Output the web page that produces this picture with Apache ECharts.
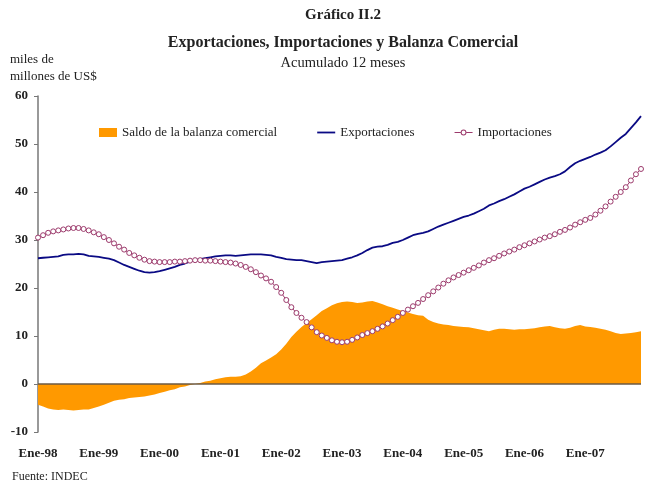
<!DOCTYPE html>
<html>
<head>
<meta charset="utf-8">
<script src="https://cdn.jsdelivr.net/npm/echarts@6/dist/echarts.min.js"></script>
<style>
  html, body { margin: 0; padding: 0; background: #fff; }
  #chart { width: 651px; height: 484px; }
</style>
</head>
<body>
<div id="chart"></div>
<script>
// monthly, Ene-98 .. Dic-07, 12-month rolling sums (miles de millones de US$)
const yearLabels = ['98', '99', '00', '01', '02', '03', '04', '05', '06', '07']
const monthNames = ['Ene', 'Feb', 'Mar', 'Abr', 'May', 'Jun', 'Jul', 'Ago', 'Sep', 'Oct', 'Nov', 'Dic']

const exportaciones = [
  26.2, 26.3, 26.4, 26.5, 26.6, 26.9, 27.0, 27.0, 27.1, 27.0, 26.7, 26.6,
  26.5, 26.3, 26.1, 25.8, 25.3, 24.8, 24.4, 24.0, 23.6, 23.3, 23.2, 23.3,
  23.5, 23.8, 24.1, 24.4, 24.8, 25.1, 25.5, 25.8, 26.0, 26.2, 26.4, 26.6,
  26.7, 26.8, 26.8, 26.7, 26.8, 26.9, 27.0, 27.0, 27.0, 26.9, 26.8, 26.5,
  26.3, 26.0, 25.9, 25.8, 25.8, 25.6, 25.4, 25.2, 25.4, 25.5, 25.6, 25.7,
  25.8, 26.1, 26.4, 26.8, 27.3, 27.9, 28.4, 28.6, 28.7, 29.0, 29.4, 29.6,
  30.0, 30.5, 31.0, 31.3, 31.5, 31.8, 32.3, 32.8, 33.2, 33.6, 34.0, 34.4,
  34.8, 35.1, 35.5, 36.0, 36.5, 37.2, 37.6, 38.1, 38.5, 39.0, 39.5, 40.1,
  40.7, 41.1, 41.6, 42.1, 42.6, 43.0, 43.3, 43.7, 44.3, 45.2, 46.0, 46.5,
  46.9, 47.3, 47.8, 48.2, 48.7, 49.5, 50.4, 51.3, 52.1, 53.3, 54.5, 55.8
]

const importaciones = [
  30.5, 31.0, 31.5, 31.8, 32.0, 32.2, 32.4, 32.5, 32.5, 32.3, 32.0, 31.6,
  31.2, 30.6, 30.0, 29.3, 28.6, 28.0, 27.3, 26.8, 26.3, 25.9, 25.6, 25.5,
  25.4, 25.4, 25.4, 25.5, 25.5, 25.6, 25.7, 25.8, 25.8, 25.7, 25.7, 25.6,
  25.5, 25.4, 25.3, 25.1, 24.8, 24.4, 23.9, 23.3, 22.6, 22.0, 21.3, 20.2,
  19.0, 17.5, 16.0, 14.8, 13.8, 12.9, 11.8, 10.8, 10.1, 9.6, 9.1, 8.8,
  8.7, 8.8, 9.2, 9.7, 10.2, 10.6, 11.0, 11.5, 12.0, 12.6, 13.3, 14.0,
  14.8, 15.5, 16.2, 16.9, 17.7, 18.5, 19.3, 20.1, 20.9, 21.6, 22.2, 22.7,
  23.2, 23.7, 24.2, 24.7, 25.3, 25.8, 26.2, 26.7, 27.2, 27.6, 28.0, 28.5,
  28.9, 29.3, 29.7, 30.1, 30.5, 30.8, 31.2, 31.7, 32.1, 32.6, 33.2, 33.7,
  34.2, 34.6, 35.3, 36.1, 37.0, 38.0, 39.0, 40.0, 41.0, 42.4, 43.7, 44.8
]

const saldo = [
  -4.3, -4.7, -5.1, -5.3, -5.4, -5.3, -5.4, -5.5, -5.4, -5.3, -5.3, -5.0,
  -4.7, -4.3, -3.9, -3.5, -3.3, -3.2, -2.9, -2.8, -2.7, -2.6, -2.4, -2.2,
  -1.9, -1.6, -1.3, -1.1, -0.7, -0.5, -0.2, 0.0, 0.2, 0.5, 0.7, 1.0,
  1.2, 1.4, 1.5, 1.5, 1.6, 2.0, 2.6, 3.4, 4.3, 4.9, 5.5, 6.2,
  7.2, 8.4, 9.8, 10.9, 11.9, 12.7, 13.5, 14.3, 15.2, 15.8, 16.4, 16.8,
  17.1, 17.2, 17.1, 16.9, 17.0, 17.2, 17.3, 17.0, 16.6, 16.2, 15.9, 15.5,
  15.2, 14.9, 14.6, 14.3, 14.2, 13.4, 12.9, 12.6, 12.4, 12.3, 12.1, 12.0,
  11.9, 11.8, 11.6, 11.4, 11.2, 11.0, 11.3, 11.5, 11.5, 11.4, 11.3, 11.4,
  11.4, 11.5, 11.6, 11.8, 12.0, 12.1, 11.8, 11.6, 11.5, 11.7, 12.1, 12.3,
  12.0, 11.9, 11.7, 11.5, 11.3, 11.0, 10.6, 10.4, 10.5, 10.6, 10.8, 11.0
]

const months = []
yearLabels.forEach(y => monthNames.forEach(m => months.push(m + '-' + y)))

const serif = '"Liberation Serif", "DejaVu Serif", serif'
const ink = '#222'
const impColor = '#9c3a6c'

// legend icons: thin line, and line broken by an open ring
const lineIcon = 'path://M0,0H18V1.8H0Z'
const ringIcon = 'path://M0,3.4H6.2V4.6H0Z M11.8,3.4H18V4.6H11.8Z ' +
  'M11.9,4A2.9,2.9 0 1 0 6.1,4A2.9,2.9 0 1 0 11.9,4Z ' +
  'M10.9,4A1.9,1.9 0 1 1 7.1,4A1.9,1.9 0 1 1 10.9,4Z'

const chart = echarts.init(document.getElementById('chart'), null, { renderer: 'canvas' })

chart.setOption({
  animation: false,
  backgroundColor: '#fff',
  textStyle: { fontFamily: serif, color: ink },
  title: [
    { text: 'Gráfico II.2', left: 343, top: 8, padding: 0, textAlign: 'center',
      textStyle: { fontFamily: serif, fontSize: 15, fontWeight: 'bold', color: ink } },
    { text: 'Exportaciones, Importaciones y Balanza Comercial', left: 343, top: 35, padding: 0, textAlign: 'center',
      textStyle: { fontFamily: serif, fontSize: 16, fontWeight: 'bold', color: ink } },
    { text: 'Acumulado 12 meses', left: 343, top: 56, padding: 0, textAlign: 'center',
      textStyle: { fontFamily: serif, fontSize: 14.5, fontWeight: 'normal', color: ink } },
    { text: 'miles de\nmillones de US$', left: 10, top: 51, padding: 0,
      textStyle: { fontFamily: serif, fontSize: 13, fontWeight: 'normal', color: ink, lineHeight: 17 } },
    { text: 'Fuente: INDEC', left: 12, top: 471, padding: 0,
      textStyle: { fontFamily: serif, fontSize: 12, fontWeight: 'normal', color: ink } }
  ],
  legend: {
    left: 99,
    top: 126,
    padding: 0,
    itemGap: 40,
    itemWidth: 18,
    itemHeight: 9,
    textStyle: { fontFamily: serif, fontSize: 13, color: ink },
    data: [
      { name: 'Saldo de la balanza comercial', icon: 'rect' },
      { name: 'Exportaciones', icon: lineIcon },
      { name: 'Importaciones', icon: ringIcon, itemStyle: { color: impColor, borderWidth: 0 } }
    ]
  },
  grid: { left: 38, right: 10, top: 96, bottom: 52 },
  xAxis: {
    type: 'category',
    data: months,
    boundaryGap: false,
    position: 'bottom',
    axisLine: { show: false },
    axisTick: { show: false },
    axisLabel: {
      interval: (i) => i % 12 === 0,
      margin: 15,
      fontFamily: serif,
      fontSize: 13,
      fontWeight: 'bold',
      color: ink
    }
  },
  yAxis: {
    type: 'value',
    min: -10,
    max: 60,
    interval: 10,
    axisLine: { show: true, lineStyle: { color: '#777', width: 1.5 } },
    axisTick: { show: true, inside: false, length: 4, lineStyle: { color: '#777' } },
    splitLine: { show: false },
    axisLabel: { margin: 10, fontFamily: serif, fontSize: 13, fontWeight: 'bold', color: ink }
  },
  series: [
    {
      name: 'Saldo de la balanza comercial',
      type: 'line',
      data: saldo,
      symbol: 'none',
      color: '#ff9900',
      lineStyle: { width: 0 },
      areaStyle: { color: '#ff9900', opacity: 1 },
      // zero reference line
      markLine: {
        silent: true,
        symbol: 'none',
        label: { show: false },
        lineStyle: { color: '#6b5a44', width: 1.5, type: 'solid' },
        data: [{ yAxis: 0 }]
      },
      z: 1
    },
    {
      name: 'Exportaciones',
      type: 'line',
      data: exportaciones,
      symbol: 'none',
      color: '#0a0a84',
      lineStyle: { width: 1.8, color: '#0a0a84' },
      z: 3
    },
    {
      name: 'Importaciones',
      type: 'line',
      data: importaciones,
      symbol: 'circle',
      symbolSize: 5,
      showAllSymbol: true,
      color: impColor,
      lineStyle: { width: 1, color: impColor },
      itemStyle: { color: '#fff', borderColor: impColor, borderWidth: 1 },
      z: 4
    }
  ]
})
</script>
</body>
</html>
